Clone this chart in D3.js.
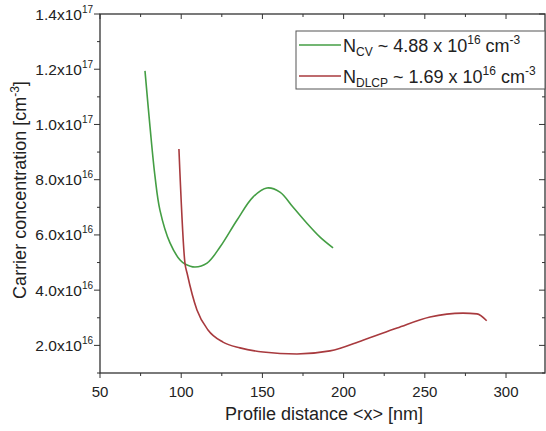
<!DOCTYPE html>
<html>
<head>
<meta charset="utf-8">
<script src="https://cdn.jsdelivr.net/npm/d3@7"></script>
<style>
  body { margin: 0; background: #fff; }
  text { font-family: "Liberation Sans", Arial, sans-serif; fill: #222; }
</style>
</head>
<body>
<div class="chart"></div>
<script>
// Chart data (x in nm, concentration in units of 1e16 cm^-3)
var cv_x = [77.7, 80.8, 83.9, 86.9, 93.1, 99.3, 102.3, 108.5, 115.9, 123.9, 134.4, 144.2, 152.8, 160.8, 168.8, 177.0, 185.5, 193.5];
var cv_y = [11.94, 9.91, 8.10, 6.90, 5.71, 5.09, 4.95, 4.84, 4.98, 5.56, 6.54, 7.37, 7.70, 7.55, 7.01, 6.45, 5.92, 5.53];

var dlcp_x = [98.6, 102.3, 103.6, 109.7, 116.5, 125.7, 136.2, 150.4, 171.3, 191.6, 211.9, 232.9, 253.2, 273.5, 282.1, 288.1];
var dlcp_y = [9.11, 4.98, 4.62, 3.28, 2.56, 2.12, 1.91, 1.76, 1.69, 1.80, 2.19, 2.63, 3.03, 3.17, 3.14, 2.89];

var x_ticks = [50, 100, 150, 200, 250, 300];
var y_ticks = [2, 4, 6, 8, 10, 12, 14];
var y_tick_mant = ["2.0", "4.0", "6.0", "8.0", "1.0", "1.2", "1.4"];
var y_tick_exp = ["16", "16", "16", "16", "17", "17", "17"];

var legend_names = ["CV", "DLCP"];
var legend_values = ["4.88", "1.69"];
var colors = ["#449e44", "#a83a3e"];

// Sizes
var svg_width = 546;
var svg_height = 431;
var p_left = 100, p_right = 545, p_top = 14, p_bottom = 373;

var svg = d3.select(".chart").append("svg")
  .attr("width", svg_width)
  .attr("height", svg_height);

var x = d3.scaleLinear().domain([50, 324]).range([p_left, p_right]);
var y = d3.scaleLinear().domain([1, 14]).range([p_bottom, p_top]);

var minor_x = d3.range(50, 325, 25);
var minor_y = d3.range(1, 14.01, 1);

// frame
svg.append("rect")
  .attr("x", p_left).attr("y", p_top)
  .attr("width", p_right - p_left).attr("height", p_bottom - p_top)
  .attr("fill", "none").attr("stroke", "#333").attr("stroke-width", 1.3);

// bottom ticks (outward) and top ticks (inward)
svg.selectAll(".xt")
  .data(minor_x)
  .enter()
  .append("line")
  .attr("x1", function(d) { return x(d); })
  .attr("x2", function(d) { return x(d); })
  .attr("y1", p_bottom)
  .attr("y2", function(d) { return p_bottom + (d % 50 === 0 ? 5 : 3); })
  .attr("stroke", "#333");

svg.selectAll(".xtt")
  .data(minor_x)
  .enter()
  .append("line")
  .attr("x1", function(d) { return x(d); })
  .attr("x2", function(d) { return x(d); })
  .attr("y1", p_top)
  .attr("y2", function(d) { return p_top + (d % 50 === 0 ? 5 : 3); })
  .attr("stroke", "#333");

// left ticks (outward) and right ticks (inward)
svg.selectAll(".yt")
  .data(minor_y)
  .enter()
  .append("line")
  .attr("y1", function(d) { return y(d); })
  .attr("y2", function(d) { return y(d); })
  .attr("x1", p_left)
  .attr("x2", function(d) { return p_left - (d % 2 === 0 ? 6 : 3); })
  .attr("stroke", "#333");

svg.selectAll(".ytr")
  .data(minor_y)
  .enter()
  .append("line")
  .attr("y1", function(d) { return y(d); })
  .attr("y2", function(d) { return y(d); })
  .attr("x1", p_right)
  .attr("x2", function(d) { return p_right - (d % 2 === 0 ? 6 : 3); })
  .attr("stroke", "#333");

// x tick labels
svg.selectAll(".xl")
  .data(x_ticks)
  .enter()
  .append("text")
  .attr("x", function(d) { return x(d); })
  .attr("y", 397)
  .attr("text-anchor", "middle")
  .attr("font-size", "15px")
  .text(function(d) { return d; });

// y tick labels with superscript
var yl = svg.selectAll(".yl")
  .data(y_ticks)
  .enter()
  .append("text")
  .attr("x", 93)
  .attr("y", function(d) { return y(d) + 5.5; })
  .attr("text-anchor", "end")
  .attr("font-size", "15.5px");
yl.append("tspan").text(function(d, i) { return y_tick_mant[i] + "x10"; });
yl.append("tspan")
  .attr("dy", -7)
  .attr("font-size", "10px")
  .text(function(d, i) { return y_tick_exp[i]; });

// axis titles
svg.append("text")
  .attr("x", 324).attr("y", 420)
  .attr("text-anchor", "middle")
  .attr("font-size", "18px")
  .text("Profile distance <x> [nm]");

var yt = svg.append("text")
  .attr("transform", "translate(26," + 190 + ") rotate(-90)")
  .attr("text-anchor", "middle")
  .attr("font-size", "18px");
yt.append("tspan").text("Carrier concentration [cm");
yt.append("tspan").attr("dy", -7).attr("font-size", "12px").text("-3");
yt.append("tspan").attr("dy", 7).text("]");

// curves
var series = [d3.zip(cv_x, cv_y), d3.zip(dlcp_x, dlcp_y)];
var curves = [d3.curveCatmullRom.alpha(0.5), d3.curveMonotoneX];

svg.selectAll(".curve")
  .data(series)
  .enter()
  .append("path")
  .attr("d", function(d, i) {
    return d3.line()
      .x(function(p) { return x(p[0]); })
      .y(function(p) { return y(p[1]); })
      .curve(curves[i])(d);
  })
  .attr("fill", "none")
  .attr("stroke", function(d, i) { return colors[i]; })
  .attr("stroke-width", 1.6);

// legend
svg.append("rect")
  .attr("x", 296).attr("y", 31)
  .attr("width", 249).attr("height", 58)
  .attr("fill", "#fff").attr("stroke", "#555").attr("stroke-width", 1);

var leg = svg.selectAll(".leg")
  .data(legend_names)
  .enter()
  .append("g")
  .attr("transform", function(d, i) { return "translate(0," + (45 + i * 31) + ")"; });

leg.append("line")
  .attr("x1", 299).attr("x2", 341)
  .attr("y1", 0).attr("y2", 0)
  .attr("stroke", function(d, i) { return colors[i]; })
  .attr("stroke-width", 1.6);

var lt = leg.append("text")
  .attr("x", 343).attr("y", 7)
  .attr("font-size", "18px");
lt.append("tspan").text("N");
lt.append("tspan").attr("dy", 4).attr("font-size", "12px").text(function(d) { return d; });
lt.append("tspan").attr("dy", -4).text(function(d, i) { return " ~ " + legend_values[i] + " x 10"; });
lt.append("tspan").attr("dy", -8).attr("font-size", "12px").text("16");
lt.append("tspan").attr("dy", 8).text(" cm");
lt.append("tspan").attr("dy", -8).attr("font-size", "12px").text("-3");
</script>
</body>
</html>
